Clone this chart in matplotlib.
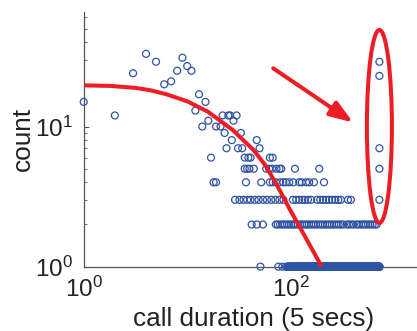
import matplotlib
matplotlib.use("Agg")
import matplotlib.pyplot as plt
import numpy as np
from matplotlib.patches import Ellipse

plt.rcParams["font.family"] = ["Liberation Sans", "DejaVu Sans"]
plt.rcParams["mathtext.fontset"] = "custom"
plt.rcParams["mathtext.rm"] = "Liberation Sans"
plt.rcParams["mathtext.it"] = "Liberation Sans:italic"

# short calls: one point per duration (5 s units)
short_dur = [1, 2, 3, 4, 5, 6, 7, 8, 9, 10, 11, 12, 13, 14, 15, 16, 17,
             19, 21, 22, 23, 24, 25, 26, 27, 28, 30, 31, 33, 34, 47, 50]
short_cnt = [15, 12, 24, 33, 29, 20, 21, 25, 31, 27, 25, 13, 17, 10, 15, 11, 6,
             10, 10, 12, 9, 7, 12, 12, 8, 11, 12, 7, 9, 7, 8, 7]

# count 6 and 5 rows
row6_dur = [36, 39, 41, 63, 67]
row5_dur = [36, 38, 40, 44, 58, 62, 66, 73, 78, 81, 110, 189]
# count 4, 3 and 2 rows
row4_dur = [18, 19, 37, 52, 63, 67, 72, 79, 85, 90, 97, 106, 121, 128, 141,
            151, 168, 210]
row3_dur = [29, 32, 35, 38, 41, 45, 49, 54, 59, 65, 71, 78, 85, 105, 113, 121,
            130, 137, 147, 158, 180, 193, 205, 220, 235, 251, 270, 289, 306,
            358, 382]
row2_dur = [42, 47, 54, 72, 75, 79, 83, 87, 92, 96, 101, 106, 111, 117, 123,
            129, 136, 143, 150, 158, 166, 175, 184, 194, 204, 215, 226, 238,
            250, 263, 277, 291, 306, 322, 348, 365, 384, 403, 433, 455, 480,
            505, 531, 559, 588, 618, 650, 678]
# single calls: a few short ones, then every duration up to the cap
row1_dur = [51, 76, 83, 90]
row1_band = (93, 720)

# calls that hit the 1 hour cap
cap_dur = 720
cap_cnt = [29, 23, 7, 5, 3]

# fitted curve
fit_dur = [1, 1.78, 3.16, 4.47, 6.31, 10, 15.85, 27.5, 43.6, 56.2, 72.4, 97.7,
           141.3, 199.5]
fit_cnt = [19.68, 19.5, 18.88, 18.11, 16.98, 15.14, 12.76, 9.46, 6.82, 5.36,
           3.91, 2.58, 1.585, 1.0]

band = np.arange(row1_band[0], row1_band[1] + 1)
x = np.concatenate([short_dur, row6_dur, row5_dur, row4_dur, row3_dur,
                    row2_dur, row1_dur, band, [cap_dur] * len(cap_cnt)])
y = np.concatenate([short_cnt, [6] * len(row6_dur), [5] * len(row5_dur),
                    [4] * len(row4_dur), [3] * len(row3_dur),
                    [2] * len(row2_dur), [1] * len(row1_dur),
                    [1] * len(band), cap_cnt])

fig = plt.figure(figsize=(4.17, 3.31), dpi=100)
ax = fig.add_axes([0.2007, 0.1943, 0.816, 0.7704])

blue = "#2f54a5"
red = "#ee1c24"

ax.scatter(x, y, s=25, facecolors="none", edgecolors=blue, linewidths=0.9,
           clip_on=False, zorder=3)
ax.plot(fit_dur, fit_cnt, color=red, lw=2.9, solid_capstyle="butt",
        solid_joinstyle="round", zorder=4)

ax.set_xscale("log")
ax.set_yscale("log")
xmax = 1941
ax.set_xlim(1, xmax)
ax.set_ylim(1, 66)

# ellipse round the capped calls, arrow pointing at it
ex = np.log10(cap_dur) / np.log10(xmax)
ax.add_patch(Ellipse((ex, 0.55), 0.0735, 0.757, transform=ax.transAxes,
                     fill=False, edgecolor=red, lw=2.9, zorder=5,
                     clip_on=False))
ax.annotate("", xy=(0.792, 0.565), xytext=(0.557, 0.778),
            xycoords="axes fraction", textcoords="axes fraction",
            arrowprops=dict(arrowstyle="-|>,head_length=1.4,head_width=0.5",
                            mutation_scale=10, color=red, lw=2.9,
                            shrinkA=0, shrinkB=0))

for side in ("top", "right"):
    ax.spines[side].set_visible(False)
for side in ("left", "bottom"):
    ax.spines[side].set_color("#555555")
    ax.spines[side].set_linewidth(0.9)

ax.set_xticks([1, 100])
ax.xaxis.set_minor_locator(matplotlib.ticker.NullLocator())
ax.tick_params(axis="x", which="both", length=0, pad=7, labelsize=17.5,
               labelcolor="#222222")
ax.tick_params(axis="y", which="major", direction="in", length=3.5, width=0.8,
               pad=8, labelsize=17.5, labelcolor="#222222", color="#555555")
ax.tick_params(axis="y", which="minor", direction="in", length=2, width=0.6,
               color="#555555")

ax.set_xlabel("call duration (5 secs)", fontsize=18.8, color="#222222",
              labelpad=4)
ax.set_ylabel("count", fontsize=18.8, color="#222222", labelpad=0)

fig.savefig("out.png", dpi=100)
